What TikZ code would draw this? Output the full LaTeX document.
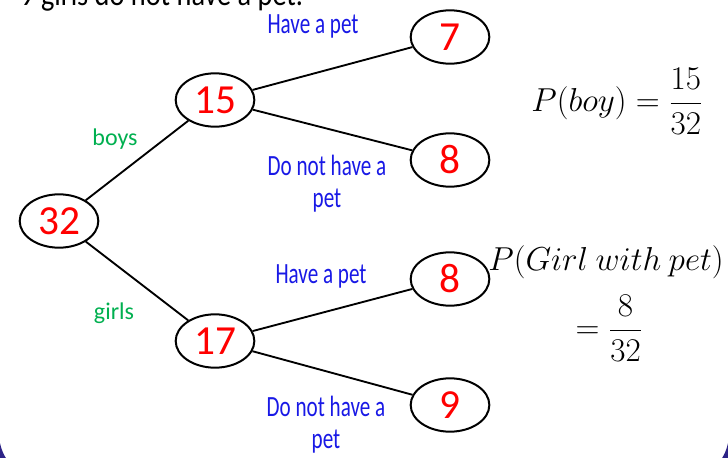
\documentclass[tikz,border=0pt]{standalone}
\usepackage{amsmath}
\usepackage{fontspec}
\usetikzlibrary{shapes.geometric}
\setmainfont{Carlito}
\newfontfamily\handfont[FakeStretch=0.72]{Carlito}
\newfontfamily\headfont[FakeStretch=0.85]{Carlito}
\definecolor{numred}{RGB}{255,0,0}
\definecolor{txtblue}{RGB}{25,25,230}
\definecolor{txtgreen}{RGB}{0,176,80}
\definecolor{frameblue}{RGB}{45,35,135}
\tikzset{
  countnode/.style={ellipse, draw=black, line width=1.5pt, fill=white,
    minimum width=59pt, minimum height=40pt, inner sep=0pt,
    text=numred, font=\fontsize{31}{34}\selectfont},
  branch/.style={line width=1.4pt, draw=black},
  petlabel/.style={text=txtblue, font=\handfont\fontsize{22}{24}\selectfont, align=center, inner sep=0pt},
  grouplabel/.style={text=txtgreen, font=\fontsize{18}{20}\selectfont, inner sep=0pt},
  mathlabel/.style={font=\fontsize{25}{30}\selectfont, inner sep=0pt}
}
\begin{document}
\begin{tikzpicture}[x=0.75pt,y=-0.75pt]
\useasboundingbox (0,0) rectangle (728,457);
\clip (0,0) rectangle (728,457);
\fill[white] (0,0) rectangle (728,457);
% slide frame (bottom corners only visible)
\draw[frameblue, line width=3.8pt, rounded corners=37pt] (-3.5,-100) rectangle (731.5,483);
% cut-off heading
\node[anchor=base west, inner sep=0pt, font=\headfont\fontsize{25}{27}\selectfont] (head) at (20,5) {9 girls do not have a pet.};
% nodes
\node[countnode] (n32) at (59,221) {32};
\node[countnode] (n15) at (215,100) {15};
\node[countnode] (n17) at (215,341) {17};
\node[countnode] (n7) at (450,37) {7};
\node[countnode] (n8a) at (450,160) {8};
\node[countnode] (n8b) at (450,279) {8};
\node[countnode] (n9) at (450,405) {9};
% branches
\draw[branch] (n32) -- (n15);
\draw[branch] (n32) -- (n17);
\draw[branch] (n15) -- (n7);
\draw[branch] (n15) -- (n8a);
\draw[branch] (n17) -- (n8b);
\draw[branch] (n17) -- (n9);
% labels
\node[grouplabel] (lboys) at (115,139) {boys};
\node[grouplabel] (lgirls) at (114,313) {girls};
\node[petlabel] (l1) at (313,26) {Have a pet};
\node[petlabel] (l2) at (327,184) {Do not have a\\pet};
\node[petlabel] (l3) at (321,276) {Have a pet};
\node[petlabel] (l4) at (326,425) {Do not have a\\pet};
% probabilities
\node[mathlabel] (pboy) at (617,101) {$P(boy)=\dfrac{15}{32}$};
\node[mathlabel] (pgirl) at (606,262) {$P(Girl\ with\ pet)$};
\node[mathlabel] (pgirlval) at (609,328) {$=\dfrac{8}{32}$};
\end{tikzpicture}
\end{document}
